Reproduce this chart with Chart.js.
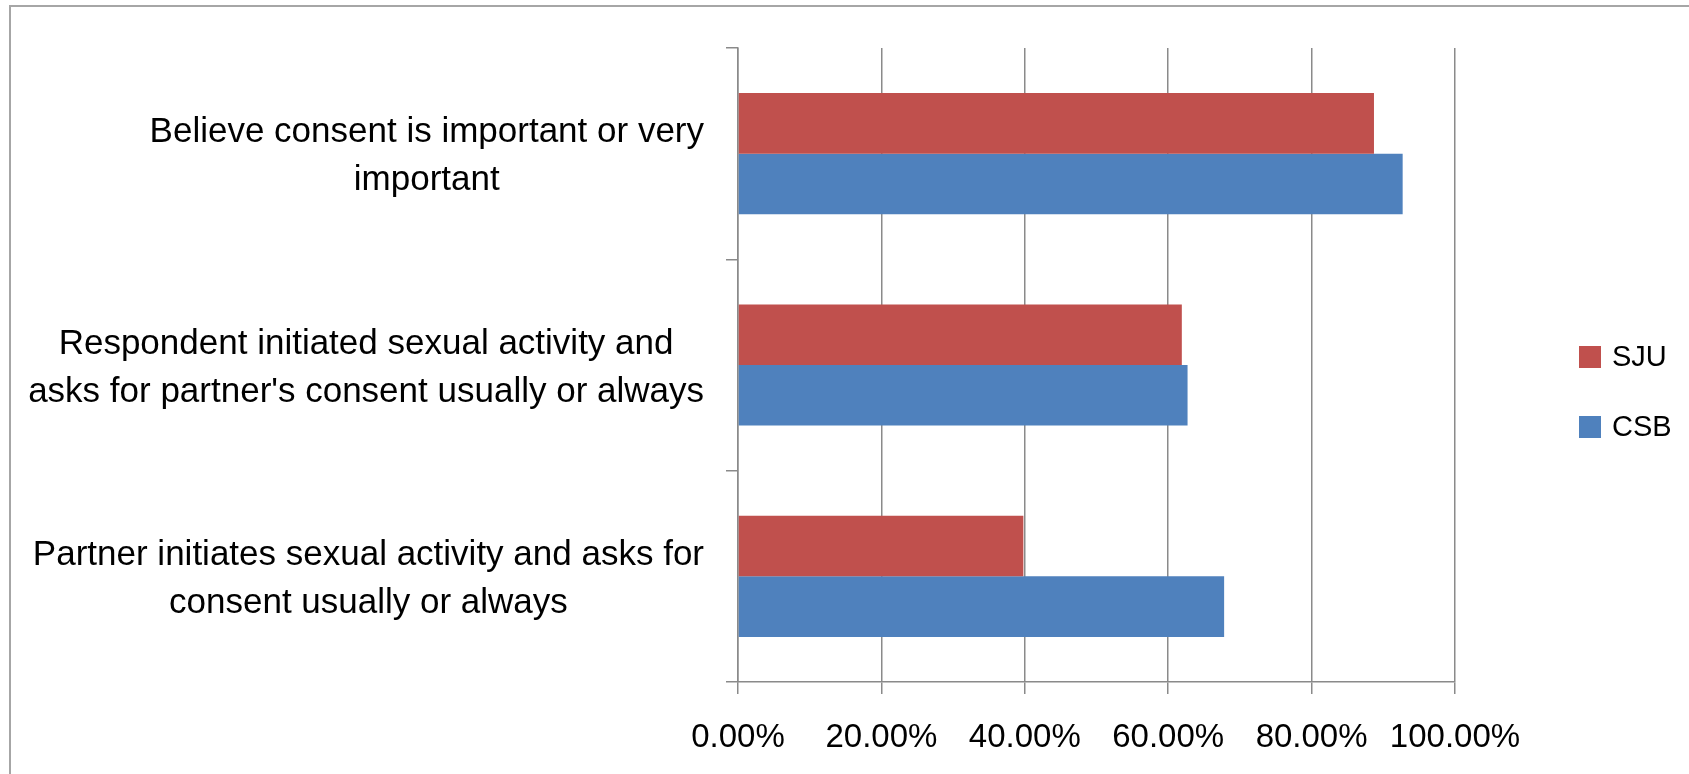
<!DOCTYPE html>
<html>
<head>
<meta charset="utf-8">
<script src="https://cdn.jsdelivr.net/npm/chart.js@4.4.0/dist/chart.umd.min.js"></script>
<style>
    body { margin: 0; background: #fff; overflow: hidden; }
    #frame { position: absolute; left: 9px; top: 5px; width: 1800px; height: 900px; border-left: 2px solid #a6a6a6; border-top: 2px solid #a6a6a6; }
    #chart { position: absolute; left: 0; top: 0; }
</style>
</head>
<body>
<div id="frame"></div>
<canvas id="chart" width="1689" height="774"></canvas>
<script>
// categories (multi-line labels as shown in the picture)
const categories = [
    ['Believe consent is important or very', 'important'],
    ['Respondent initiated sexual activity and', "asks for partner's consent usually or always"],
    ['Partner initiates sexual activity and asks for', 'consent usually or always']
];
const seriesNames = ['SJU', 'CSB'];
const sjuValues = [88.7, 61.9, 39.8];
const csbValues = [92.7, 62.7, 67.8];
const xTicks = [0, 20, 40, 60, 80, 100];

const FONT = "'Liberation Sans', Arial, sans-serif";
const GRID = '#8a8a8a';

// category labels: each block right aligned, lines centred inside the block
const yLabelsPlugin = {
    id: 'yLabels',
    afterDraw(chart) {
        const ctx = chart.ctx;
        const yScale = chart.scales.y;
        ctx.save();
        ctx.font = '35px ' + FONT;
        ctx.fillStyle = '#000';
        ctx.textAlign = 'center';
        ctx.textBaseline = 'middle';
        const right = chart.chartArea.left - 34;
        categories.forEach((lines, i) => {
            const w = Math.max(...lines.map(l => ctx.measureText(l).width));
            const cx = right - w / 2;
            const cy = yScale.getPixelForValue(i) + 3;
            lines.forEach((l, j) => {
                ctx.fillText(l, cx, cy + (j - (lines.length - 1) / 2) * 48);
            });
        });
        ctx.restore();
    }
};

// legend on the right, square markers
const legendPlugin = {
    id: 'sideLegend',
    afterDraw(chart) {
        const ctx = chart.ctx;
        const x = chart.chartArea.right + 124;
        ctx.save();
        ctx.font = '29px ' + FONT;
        ctx.textBaseline = 'middle';
        ctx.textAlign = 'left';
        chart.data.datasets.forEach((ds, i) => {
            const cy = chart.chartArea.top + 309 + i * 70;
            ctx.fillStyle = ds.backgroundColor;
            ctx.fillRect(x, cy - 11, 22, 22);
            ctx.fillStyle = '#000';
            ctx.fillText(ds.label, x + 33, cy + 1);
        });
        ctx.restore();
    }
};

const ctx = document.getElementById('chart').getContext('2d');
new Chart(ctx, {
    type: 'bar',
    data: {
        labels: categories.map(c => c.join(' ')),
        datasets: [
            { label: seriesNames[0], data: sjuValues, backgroundColor: '#c0504d', categoryPercentage: 0.573, barPercentage: 1 },
            { label: seriesNames[1], data: csbValues, backgroundColor: '#4f81bd', categoryPercentage: 0.573, barPercentage: 1 }
        ]
    },
    options: {
        indexAxis: 'y',
        responsive: false,
        animation: false,
        layout: { padding: { top: 48, right: 234, bottom: 0, left: 0 } },
        plugins: {
            legend: { display: false },
            tooltip: { enabled: false }
        },
        scales: {
            x: {
                min: 0,
                max: 100,
                afterBuildTicks: (scale) => { scale.ticks = xTicks.map(v => ({ value: v })); },
                ticks: {
                    callback: v => v.toFixed(2) + '%',
                    font: { family: FONT, size: 33 },
                    color: '#000',
                    padding: 24,
                    maxRotation: 0
                },
                grid: { color: GRID, lineWidth: 1.5, tickLength: 12 },
                border: { color: GRID, width: 1.5 },
                afterFit: (scale) => { scale.height = 774 - 682; }
            },
            y: {
                ticks: { display: false },
                grid: { drawOnChartArea: false, color: GRID, lineWidth: 1.5, tickLength: 12 },
                border: { color: GRID, width: 1.5 },
                afterFit: (scale) => { scale.width = 738; }
            }
        }
    },
    plugins: [yLabelsPlugin, legendPlugin]
});
</script>
</body>
</html>
